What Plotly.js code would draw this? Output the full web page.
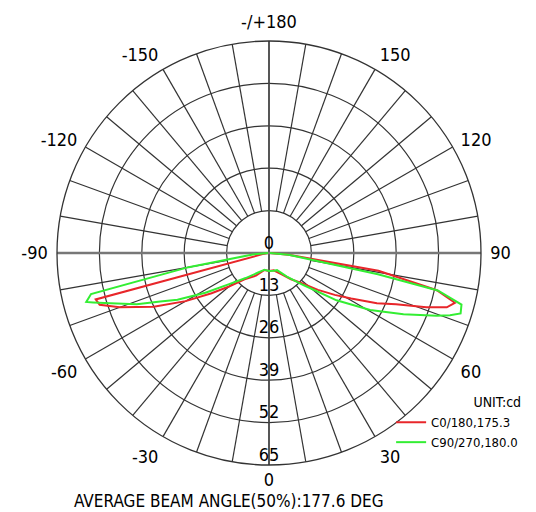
<!DOCTYPE html>
<html>
<head>
<meta charset="utf-8">
<script src="https://cdn.plot.ly/plotly-3.0.1.min.js"></script>
<style>html,body{margin:0;padding:0;background:#fff;}#chart{width:536px;height:512px;}</style>
</head>
<body>
<div id="chart"></div>
<script>
// C0/180 series (red)
const c0Theta = [-90, -80, -75, -73, -70, -65, -60, -55, -50, -43, -30, -15, 0, 15, 30, 40, 47, 53, 57.5, 61, 65, 68, 71, 73, 75, 77.5, 80.8, 85, 90];
const c0R     = [0.3, 2, 55, 54.3, 48.7, 39, 29.5, 21.5, 16, 11, 8, 5.4, 5.5, 5.5, 7.5, 10.5, 13.5, 18.8, 23.9, 28.8, 36.5, 42, 51, 57, 59, 52.7, 34, 6, 0.3];
// C90/270 series (green)
const c90Theta = [-90, -85, -80, -77, -75, -74.3, -72.4, -68.8, -66, -63, -58, -52, -43, -30, -15, 0, 15, 25, 37, 47, 55, 60.6, 65.5, 69.5, 71, 72.5, 75, 77.5, 79, 85, 90];
const c90R     = [0.3, 5, 25, 56, 58, 56, 51, 43.5, 36.5, 31.5, 23, 15.5, 10.5, 7, 5.3, 5.5, 5.6, 5.8, 9.1, 14.4, 25.3, 35.6, 45.3, 54.9, 58.7, 61.6, 61.1, 53, 34, 6, 0.3];

const seriesNames = ['C0/180,175.3', 'C90/270,180.0'];
const radialTicks = [0, 13, 26, 39, 52, 65];
const angleTickVals = [30, 60, 90, 120, 150, 180, 210, 240, 270, 300, 330];
const angleTickText = ['30', '60', '90', '120', '150', '-/+180', '-150', '-120', '-90', '-60', '-30'];
const bottomAngleLabel = '0';
const unitLabel = 'UNIT:cd';
const beamText = 'AVERAGE BEAM ANGLE(50%):177.6 DEG';

const FONT = 'DejaVu Sans Condensed, DejaVu Sans, sans-serif';
const RMAX = 65;

// spokes every 10 deg from the 13 circle outward (grid)
const spokeR = [], spokeT = [];
for (let a = 10; a < 360; a += 10) {
  if (a % 90 === 0) continue;
  spokeR.push(13, RMAX, null);
  spokeT.push(a, a, null);
}

const traces = [
  {type: 'scatterpolar', mode: 'lines', r: spokeR, theta: spokeT, connectgaps: false,
   line: {color: '#333', width: 1.2}, hoverinfo: 'skip', showlegend: false},
  {type: 'scatterpolar', mode: 'lines', r: [RMAX, 0, RMAX], theta: [180, 0, 0],
   line: {color: '#444', width: 1.8}, hoverinfo: 'skip', showlegend: false},
  {type: 'scatterpolar', mode: 'lines', r: [RMAX, 0, RMAX], theta: [270, 0, 90],
   line: {color: '#777', width: 2.5}, hoverinfo: 'skip', showlegend: false},
  {type: 'scatterpolar', mode: 'lines', r: c0R, theta: c0Theta, name: seriesNames[0],
   line: {color: '#e8262a', width: 2}},
  {type: 'scatterpolar', mode: 'lines', r: c90R, theta: c90Theta, name: seriesNames[1],
   line: {color: '#33ee33', width: 2}},
  {type: 'scatterpolar', mode: 'text', r: radialTicks, theta: radialTicks.map(() => 0),
   text: radialTicks.map(String), textposition: 'top center',
   textfont: {family: FONT, size: 18, color: '#000'}, hoverinfo: 'skip', showlegend: false},
  {type: 'scatterpolar', mode: 'markers+text', r: [RMAX], theta: [0],
   marker: {size: 11, opacity: 0},
   text: [bottomAngleLabel], textposition: 'bottom center', cliponaxis: false,
   textfont: {family: FONT, size: 18, color: '#000'}, hoverinfo: 'skip', showlegend: false}
];

const layout = {
  width: 536, height: 512,
  margin: {l: 57, r: 55, t: 41, b: 47},
  paper_bgcolor: '#fff',
  showlegend: true,
  legend: {
    x: 0.788, y: 0.179, xanchor: 'left', yanchor: 'top',
    bgcolor: 'rgba(0,0,0,0)', itemwidth: 30,
    font: {family: FONT, size: 13, color: '#000'},
    title: {text: unitLabel, side: 'top right', font: {family: FONT, size: 14, color: '#000'}},
    tracegroupgap: 0
  },
  polar: {
    bgcolor: '#fff',
    domain: {x: [0, 1], y: [0, 1]},
    radialaxis: {
      range: [0, RMAX], tickvals: radialTicks.slice(1), showticklabels: false,
      ticks: '', showline: false, gridcolor: '#333', gridwidth: 1.2
    },
    angularaxis: {
      rotation: -90, direction: 'counterclockwise',
      tickvals: angleTickVals, ticktext: angleTickText,
      showgrid: false, showline: true, linecolor: '#333', linewidth: 1.3,
      ticks: 'outside', ticklen: 5, tickcolor: 'rgba(0,0,0,0)',
      tickfont: {family: FONT, size: 18, color: '#000'}
    }
  },
  annotations: [
    {text: beamText, xref: 'paper', yref: 'paper', x: 0.405, y: -0.085,
     xanchor: 'center', yanchor: 'middle', showarrow: false,
     font: {family: FONT, size: 17, color: '#000'}}
  ]
};

Plotly.newPlot('chart', traces, layout, {staticPlot: true, displayModeBar: false});
</script>
</body>
</html>
